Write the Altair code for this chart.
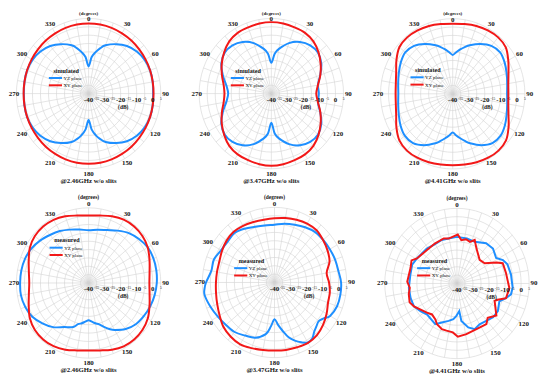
import altair as alt
import pandas as pd

FONT = "Liberation Serif"
BLUE = "#1e8fff"
RED = "#f21818"
GRID = "#d2d2d2"
INK = "#151515"
SERIES = ["YZ plane", "XY plane"]

# ---------------- data (dB versus angle in degrees, 0 at top, clockwise) -------------
P1_YZ_ANG = [0, 5, 10, 15, 20, 30, 40, 50, 60, 70, 80, 90, 100, 110, 120, 130, 140, 150,
             160, 165, 170, 175, 180, 185, 190, 195, 200, 210, 220, 230, 240, 250, 260, 270,
             280, 290, 300, 310, 320, 330, 340, 345, 350, 355]
P1_YZ_DB = [-23.7, -18, -14.8, -11.8, -9.2, -5.8, -2.8, -0.8, 0.4, 0.8, 0.6, 0.2, 0.6, 0.8,
            0.4, -0.8, -2.8, -5.8, -9.2, -11.8, -14.8, -18.5, -24.2, -18.5, -14.8, -11.8,
            -9.2, -5.8, -2.8, -0.8, 0.4, 0.8, 0.6, 0.4, 0.6, 0.8, 0.4, -0.8, -2.8, -5.8,
            -9.2, -11.8, -14.8, -18]
P1_XY_ANG = list(range(0, 360, 10))
P1_XY_DB = [2.0, 2.0, 1.9, 1.7, 1.5, 1.2, 1.0, 0.8, 0.6, 0.5, 0.6, 0.8, 1.0, 1.2, 1.5, 1.7,
            1.9, 2.0, 2.0, 2.0, 1.9, 1.7, 1.5, 1.2, 1.0, 0.8, 0.6, 0.5, 0.6, 0.8, 1.0, 1.2,
            1.5, 1.7, 1.9, 2.0]

P2_YZ_ANG = [0, 5, 10, 20, 30, 40, 50, 60, 70, 80, 90, 100, 110, 120, 130, 140, 150, 160,
             170, 175, 180, 185, 190, 200, 210, 220, 230, 240, 250, 260, 270, 280, 290, 300,
             310, 320, 330, 340, 350, 355]
P2_YZ_DB = [-21.6, -16, -12.8, -7.8, -4.3, -2.3, -2.0, -4.0, -7.6, -10.5, -10.4, -10.5, -7.6,
            -4.0, -2.0, -2.3, -4.3, -7.8, -12.8, -16, -22.5, -16, -12.8, -7.8, -4.3, -2.3,
            -2.0, -4.0, -7.8, -11.5, -13.1, -11.5, -7.8, -4.0, -2.0, -2.3, -4.3, -7.8,
            -12.8, -16]
P2_XY_ANG = list(range(0, 360, 10))
P2_XY_DB = [2.8, 2.6, 2.2, 2.0, 0.8, -1.6, -4.5, -7.5, -10.5, -12.0, -10.5, -7.5, -4.5, -1.6,
            0.8, 2.0, 2.4, 2.9, 3.2, 2.9, 2.4, 2.0, 0.8, -1.6, -4.3, -7.2, -9.8, -10.8, -9.8,
            -7.2, -4.3, -1.6, 0.8, 2.0, 2.2, 2.6]

P3_YZ_ANG = list(P1_YZ_ANG)
P3_YZ_DB = [-16.7, -15, -13, -11, -9, -5.5, -2.5, -1.4, -2.6, -4.2, -5.5, -6.1, -5.5, -4.2,
            -2.4, -1.0, -1.5, -4.5, -8.5, -10.8, -13, -15, -16.9, -15, -13, -10.8, -8.5,
            -4.5, -1.5, -1.0, -2.4, -4.2, -5.5, -6.1, -5.5, -4.2, -2.6, -1.4, -2.5, -5.5,
            -9, -11, -13, -15]
P3_XY_ANG = list(range(0, 360, 10))
P3_XY_DB = [2.0, 2.4, 3.2, 3.8, 4.1, 3.2, 0.0, -3.0, -4.8, -5.3, -4.8, -3.0, 0.2, 3.4, 4.4,
            4.2, 3.6, 3.0, 2.8, 3.0, 3.6, 4.2, 4.4, 3.4, 0.5, -2.5, -4.0, -4.4, -4.0, -2.5,
            0.5, 3.4, 4.1, 3.8, 3.2, 2.4]

P4_YZ_ANG = [0, 10, 20, 30, 40, 50, 60, 70, 80, 90, 100, 110, 120, 130, 140, 150, 155, 160,
             165, 170, 175, 180, 185, 190, 195, 200, 210, 220, 230, 240, 250, 260, 270, 280,
             290, 300, 310, 320, 330, 340, 350]
P4_YZ_DB = [-8.4, -7.6, -6.3, -3.8, -1.0, 1.0, 2.6, 3.0, 2.9, 2.5, 1.8, 0.9, -0.3, -1.6,
            -4.0, -7.5, -9.6, -12.0, -14.4, -15.5, -16.8, -17.7, -16.8, -15.5, -14.5, -12.0,
            -9.5, -5.5, -2.4, 0.5, 2.0, 2.8, 2.7, 2.6, 2.2, 1.2, -0.5, -2.5, -4.1, -6.0, -7.5]
P4_XY_ANG = list(range(0, 360, 10))
P4_XY_DB = [0.4, 1.0, 2.5, 3.8, 4.2, 3.8, 2.6, 0.4, -1.4, -2.1, -1.4, 0.4, 2.6, 3.8, 4.2,
            3.8, 2.5, 1.0, 0.4, 1.0, 2.5, 3.7, 4.1, 3.7, 2.3, -0.3, -2.2, -3.0, -2.2, -0.3,
            2.3, 3.7, 4.1, 3.7, 2.5, 1.0]

P5_YZ_ANG = [0, 10, 20, 30, 40, 50, 60, 70, 80, 90, 100, 110, 120, 125, 130, 135, 140, 145,
             150, 155, 160, 165, 170, 175, 180, 185, 190, 200, 210, 220, 230, 240, 250, 260,
             265, 270, 280, 290, 300, 310, 320, 330, 340, 350]
P5_YZ_DB = [-5.4, -4.3, -3.2, -1.8, -0.6, -0.4, -0.2, 0.2, 0.4, 1.5, 1.7, 1.5, 0.0, -2.5,
            -4.0, -3.0, -1.5, 1.0, 1.5, -0.5, -3.0, -6.0, -10.5, -14.5, -18.0, -13.5, -8.6,
            -4.8, -3.3, -1.3, -0.5, 0.8, 2.5, 4.2, 3.8, 2.7, 0.0, 0.2, -1.5, -1.9, -1.3,
            -2.8, -4.5, -5.3]
P5_XY_ANG = list(range(0, 360, 10))
P5_XY_DB = [-1.5, -0.8, 0.0, 0.7, 0.8, -0.5, -1.8, -3.5, -7.0, -6.0, -5.0, -4.5, -2.5, -0.5,
            1.2, 1.8, 1.3, 1.0, 0.7, 1.0, 1.8, 2.8, 2.4, 1.5, -0.5, -2.0, -3.0, -3.5, -3.6,
            -3.4, -2.2, -1.0, -0.4, -0.8, -1.5, -1.8]

P6_YZ_ANG = [0, 13, 24, 37, 47, 58, 64, 70, 81, 94, 101, 106, 112, 123, 132, 150, 158, 165,
             173, 175, 181, 186, 193, 202, 209, 225, 234, 243, 253, 265, 280, 292, 301, 318,
             328, 340, 349]
P6_YZ_DB = [-12.1, -12.4, -12.7, -9.8, -9.3, -11.2, -8.1, -6.5, -5.9, -5.2, -5.7, -8.2, -11.5,
            -9.6, -9.7, -11.8, -10.5, -12.8, -17.4, -23.4, -20.6, -18.5, -17, -14.8, -12.1,
            -13.7, -11.9, -9.9, -9.8, -9.9, -10.5, -9.9, -10.9, -11.9, -12.8, -12.3, -12.6]
P6_XY_ANG = [1, 6, 12, 18, 23, 30, 45, 55, 63, 67, 78, 95, 106, 111, 114, 128, 137, 143, 156,
             169, 179, 185, 193, 199, 207, 212, 220, 227, 243, 249, 258, 265, 272, 288, 296,
             301, 317, 330, 343, 349]
P6_XY_DB = [-10.7, -13.9, -12.9, -13.8, -11.7, -15.7, -20, -18.9, -12.4, -9, -8.8, -7.2, -8.2,
            -12.8, -14.3, -8.8, -11.9, -9.5, -10.1, -9.1, -8.1, -10.6, -11, -11.1, -12.6,
            -14.6, -15.8, -14.4, -9.9, -8.4, -9.3, -10.5, -9, -9.6, -8.5, -10.9, -12.6,
            -12.4, -11.8, -12.6]

ANGLE_TICKS = list(range(0, 360, 30))
DB_MAJOR = [-40, -30, -20, -10, 0]
DB_MINOR = [-35, -25, -15, -5, 5]
GRID_LEVELS = [-35, -30, -25, -20, -15, -10, -5, 0, 5]
SPOKES = list(range(0, 360, 10))

PANELS = [
    dict(freq="@2.46GHz w/o slits", kind="simulated", yz=(P1_YZ_ANG, P1_YZ_DB),
         xy=(P1_XY_ANG, P1_XY_DB), center=(89.5, 92.5), legend=(49.3, 76.7), interp="cardinal-closed"),
    dict(freq="@3.47GHz w/o slits", kind="simulated", yz=(P2_YZ_ANG, P2_YZ_DB),
         xy=(P2_XY_ANG, P2_XY_DB), center=(274.3, 92.5), legend=(233.3, 76.7), interp="cardinal-closed"),
    dict(freq="@4.41GHz w/o slits", kind="simulated", yz=(P3_YZ_ANG, P3_YZ_DB),
         xy=(P3_XY_ANG, P3_XY_DB), center=(457.7, 92.7), legend=(415.0, 76.0), interp="cardinal-closed"),
    dict(freq="@2.46GHz w/o slits", kind="measured", yz=(P4_YZ_ANG, P4_YZ_DB),
         xy=(P4_XY_ANG, P4_XY_DB), center=(89.5, 284.0), legend=(50.0, 248.3), interp="cardinal-closed"),
    dict(freq="@3.47GHz w/o slits", kind="measured", yz=(P5_YZ_ANG, P5_YZ_DB),
         xy=(P5_XY_ANG, P5_XY_DB), center=(277.5, 283.5), legend=(236.7, 269.0), interp="cardinal-closed"),
    dict(freq="@4.41GHz w/o slits", kind="measured", yz=(P6_YZ_ANG, P6_YZ_DB),
         xy=(P6_XY_ANG, P6_XY_DB), center=(462.0, 284.5), legend=(421.7, 269.0), interp="linear-closed"),
]

# ---------------- layout ----------------
PW, PH = 180, 185
COL_X = [8, 188, 368]
ROW_Y = [8, 193]
RX, RY = 73.0, 76.0       # pixels for the 45 dB span (-40 .. +5)
SPAN = 45.0
LAB_R = 48.0              # angle label ring (dB units from centre)
TOP_PX = {0: (82.0, 75.0), 1: (86.5, 79.5)}   # (degrees) / "0" label distance above centre
DEG_FS = {0: 5.0, 1: 5.5}

POLAR = dict(
    x="(datum.db + 40) * sin(datum.ang * PI / 180)",
    y="(datum.db + 40) * cos(datum.ang * PI / 180)",
)


def series_df(angs, dbs, name):
    assert len(angs) == len(dbs), name
    return pd.DataFrame({"ang": angs, "db": dbs, "idx": range(len(angs)), "series": name})


grid_df = pd.DataFrame([{"db": lv, "ang": a} for lv in GRID_LEVELS for a in range(0, 360, 5)])
spoke_df = pd.DataFrame({"ang": SPOKES})
one_df = pd.DataFrame({"k": [0]})
major_df = pd.DataFrame({"db": DB_MAJOR, "label": [str(v) for v in DB_MAJOR]})
minor_df = pd.DataFrame({"db": DB_MINOR, "label": [str(v) for v in DB_MINOR]})

color_scale = alt.Scale(domain=SERIES, range=[BLUE, RED])


def panel(i):
    p = PANELS[i]
    col, row = i % 3, i // 3
    x0, y0 = COL_X[col], ROW_Y[row]
    cx, cy = p["center"]
    kx, ky = RX / SPAN, RY / SPAN
    xsc = alt.Scale(domain=[(x0 - cx) / kx, (x0 + PW - cx) / kx], nice=False, zero=False)
    ysc = alt.Scale(domain=[(cy - y0 - PH) / ky, (cy - y0) / ky], nice=False, zero=False)

    def X(f):
        return alt.X(f"{f}:Q", scale=xsc, axis=None)

    def Y(f):
        return alt.Y(f"{f}:Q", scale=ysc, axis=None)

    circles = alt.Chart(grid_df).mark_line(
        interpolate="linear-closed", stroke=GRID, strokeWidth=0.6
    ).transform_calculate(**POLAR).encode(
        x=X("x"), y=Y("y"), detail="db:N", order=alt.Order("ang:Q")
    )

    spokes = alt.Chart(spoke_df).mark_rule(stroke=GRID, strokeWidth=0.6).transform_calculate(
        o="0",
        xe="45 * sin(datum.ang * PI / 180)",
        ye="45 * cos(datum.ang * PI / 180)",
    ).encode(x=X("o"), y=Y("o"), x2="xe:Q", y2="ye:Q")

    def curve(angs, dbs, name):
        return alt.Chart(series_df(angs, dbs, name)).mark_line(
            interpolate=p["interp"], strokeWidth=2
        ).transform_calculate(**POLAR).encode(
            x=X("x"), y=Y("y"),
            color=alt.Color("series:N", scale=color_scale, legend=None),
            order=alt.Order("idx:Q"),
        )

    yz = curve(*p["yz"], SERIES[0])
    xy = curve(*p["xy"], SERIES[1])

    # angle labels
    deg_px, zero_px = TOP_PX[row]
    lab_rows = []
    for a in ANGLE_TICKS:
        if a == 0:
            r = zero_px / ky
        elif a == 270:
            r = 75.5 / kx
        else:
            r = LAB_R
        lab_rows.append({"ang": a, "r": r, "label": str(a)})
    ang_labels = alt.Chart(pd.DataFrame(lab_rows)).mark_text(
        font=FONT, fontSize=7, fontWeight="bold", color=INK
    ).transform_calculate(
        x="datum.ang == 0 || datum.ang == 180 ? 0 : datum.r * sin(datum.ang * PI / 180)",
        y="datum.ang == 90 || datum.ang == 270 ? 0 : datum.r * cos(datum.ang * PI / 180)",
    ).encode(x=X("x"), y=Y("y"), text="label:N")

    degrees = alt.Chart(one_df).mark_text(
        text="(degrees)", font=FONT, fontSize=DEG_FS[row], fontWeight="bold", color=INK, dy=-deg_px
    ).transform_calculate(o="0").encode(x=X("o"), y=Y("o"))

    major = alt.Chart(major_df).mark_text(
        font=FONT, fontSize=7, fontWeight="bold", color=INK, dy=6.5
    ).transform_calculate(x="datum.db + 40", o="0").encode(x=X("x"), y=Y("o"), text="label:N")
    minor = alt.Chart(minor_df).mark_text(
        font=FONT, fontSize=3.6, color=INK, dy=5.5
    ).transform_calculate(x="datum.db + 40", o="0").encode(x=X("x"), y=Y("o"), text="label:N")
    db_unit = alt.Chart(one_df).mark_text(
        text="(dB)", font=FONT, fontSize=5.5, fontWeight="bold", color=INK, dy=13.5
    ).transform_calculate(x="21.6", o="0").encode(x=X("x"), y=Y("o"))

    caption = alt.Chart(one_df).mark_text(
        text=p["freq"], font=FONT, fontSize=6.8, fontWeight="bold", color=INK, dy=88.5
    ).transform_calculate(o="0").encode(x=X("o"), y=Y("o"))

    # legend block
    lx, ly = p["legend"]
    lx -= x0
    ly -= y0
    leg = [
        alt.Chart(one_df).mark_text(text=p["kind"], font=FONT, fontSize=6.2, fontWeight="bold",
                                    color=INK).encode(x=alt.value(lx + 17.5), y=alt.value(ly - 7.4)),
    ]
    for k, name in enumerate(SERIES):
        yy = ly + 7.4 * k
        leg.append(alt.Chart(pd.DataFrame({"series": [name]})).mark_rule(strokeWidth=2).encode(
            x=alt.value(lx), x2=alt.value(lx + 13.3), y=alt.value(yy),
            color=alt.Color("series:N", scale=color_scale, legend=None)))
        leg.append(alt.Chart(one_df).mark_text(text=name, font=FONT, fontSize=5, align="left",
                                               color=INK).encode(x=alt.value(lx + 14.8), y=alt.value(yy)))

    return alt.layer(circles, spokes, yz, xy, ang_labels, degrees, major, minor, db_unit,
                     caption, *leg).properties(width=PW, height=PH)


chart = alt.concat(*[panel(i) for i in range(6)], columns=3, spacing=0, bounds="flush").properties(
    padding=0, background="white"
).configure_view(strokeWidth=0)

chart.save("out.html", embed_options={"renderer": "svg", "actions": False})
